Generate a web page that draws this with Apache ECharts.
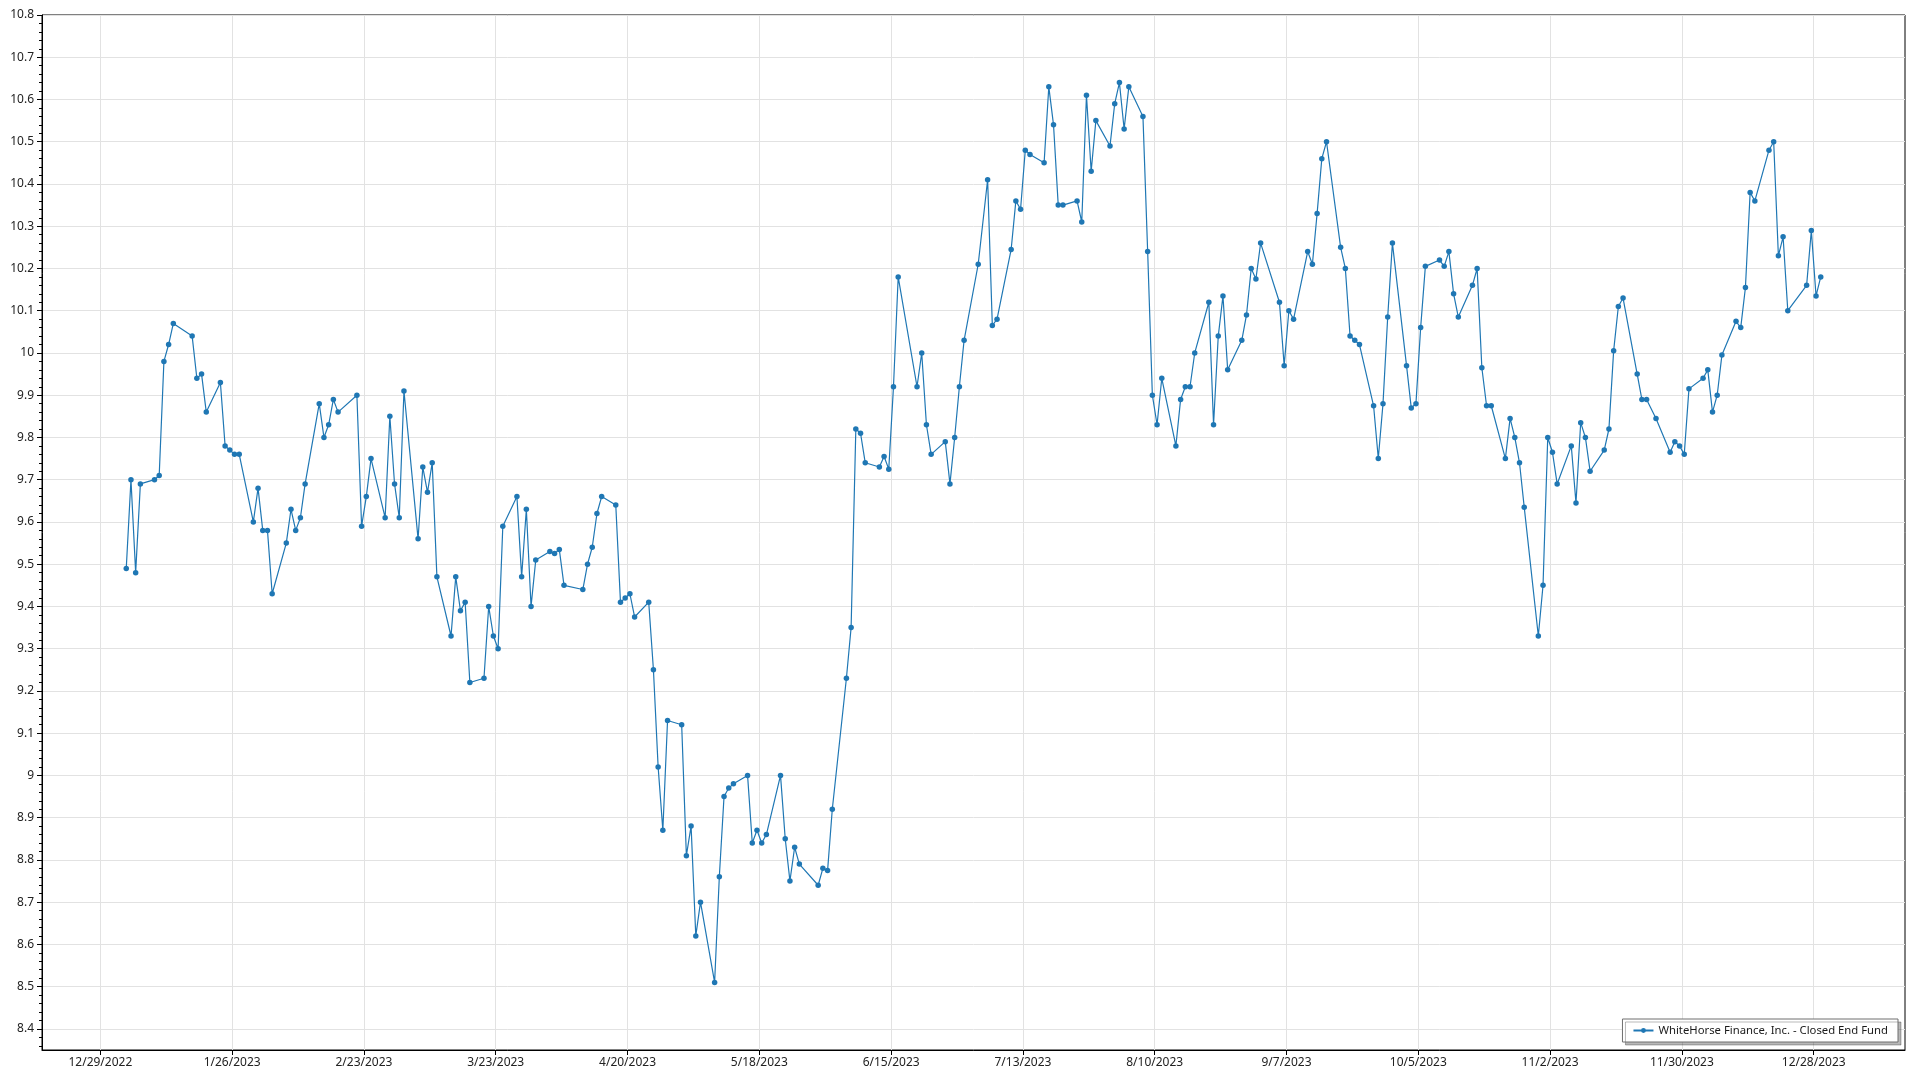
<!DOCTYPE html>
<html>
<head>
<meta charset="utf-8">
<script src="https://cdn.jsdelivr.net/npm/echarts@6/dist/echarts.min.js"></script>
<style>
  html, body { margin: 0; padding: 0; background: #fff; }
  #chart { width: 1920px; height: 1080px; }
</style>
</head>
<body>
<div id="chart"></div>
<script>
// ---- Data (year 2023, M/D) ----
const YEAR = 2023;
const dates = [
  '1/3','1/4','1/5','1/6','1/9','1/10','1/11','1/12','1/13','1/17','1/18','1/19','1/20','1/23','1/24','1/25','1/26','1/27','1/30','1/31',
  '2/1','2/2','2/3','2/6','2/7','2/8','2/9','2/10','2/13','2/14','2/15','2/16','2/17','2/21','2/22','2/23','2/24','2/27','2/28',
  '3/1','3/2','3/3','3/6','3/7','3/8','3/9','3/10','3/13','3/14','3/15','3/16','3/17','3/20','3/21','3/22','3/23','3/24','3/27','3/28','3/29','3/30','3/31',
  '4/3','4/4','4/5','4/6','4/10','4/11','4/12','4/13','4/14','4/17','4/18','4/19','4/20','4/21','4/24','4/25','4/26','4/27','4/28',
  '5/1','5/2','5/3','5/4','5/5','5/8','5/9','5/10','5/11','5/12','5/15','5/16','5/17','5/18','5/19','5/22','5/23','5/24','5/25','5/26','5/30','5/31',
  '6/1','6/2','6/5','6/6','6/7','6/8','6/9','6/12','6/13','6/14','6/15','6/16','6/20','6/21','6/22','6/23','6/26','6/27','6/28','6/29','6/30',
  '7/3','7/5','7/6','7/7','7/10','7/11','7/12','7/13','7/14','7/17','7/18','7/19','7/20','7/21','7/24','7/25','7/26','7/27','7/28','7/31',
  '8/1','8/2','8/3','8/4','8/7','8/8','8/9','8/10','8/11','8/14','8/15','8/16','8/17','8/18','8/21','8/22','8/23','8/24','8/25','8/28','8/29','8/30','8/31',
  '9/1','9/5','9/6','9/7','9/8','9/11','9/12','9/13','9/14','9/15','9/18','9/19','9/20','9/21','9/22','9/25','9/26','9/27','9/28','9/29',
  '10/2','10/3','10/4','10/5','10/6','10/9','10/10','10/11','10/12','10/13','10/16','10/17','10/18','10/19','10/20','10/23','10/24','10/25','10/26','10/27','10/30','10/31',
  '11/1','11/2','11/3','11/6','11/7','11/8','11/9','11/10','11/13','11/14','11/15','11/16','11/17','11/20','11/21','11/22','11/24','11/27','11/28','11/29','11/30',
  '12/1','12/4','12/5','12/6','12/7','12/8','12/11','12/12','12/13','12/14','12/15','12/18','12/19','12/20','12/21','12/22','12/26','12/27','12/28','12/29'
];
const prices = [
  9.49,9.70,9.48,9.69,9.70,9.71,9.98,10.02,10.07,10.04,9.94,9.95,9.86,9.93,9.78,9.77,9.76,9.76,9.60,9.68,
  9.58,9.58,9.43,9.55,9.63,9.58,9.61,9.69,9.88,9.80,9.83,9.89,9.86,9.90,9.59,9.66,9.75,9.61,9.85,
  9.69,9.61,9.91,9.56,9.73,9.67,9.74,9.47,9.33,9.47,9.39,9.41,9.22,9.23,9.40,9.33,9.30,9.59,9.66,9.47,9.63,9.40,9.51,
  9.53,9.525,9.535,9.45,9.44,9.50,9.54,9.62,9.66,9.64,9.41,9.42,9.43,9.375,9.41,9.25,9.02,8.87,9.13,
  9.12,8.81,8.88,8.62,8.70,8.51,8.76,8.95,8.97,8.98,9.00,8.84,8.87,8.84,8.86,9.00,8.85,8.75,8.83,8.79,8.74,8.78,
  8.775,8.92,9.23,9.35,9.82,9.81,9.74,9.73,9.755,9.725,9.92,10.18,9.92,10.00,9.83,9.76,9.79,9.69,9.80,9.92,10.03,
  10.21,10.41,10.065,10.08,10.245,10.36,10.34,10.48,10.47,10.45,10.63,10.54,10.35,10.35,10.36,10.31,10.61,10.43,10.55,10.49,
  10.59,10.64,10.53,10.63,10.56,10.24,9.90,9.83,9.94,9.78,9.89,9.92,9.92,10.00,10.12,9.83,10.04,10.135,9.96,10.03,10.09,10.20,10.175,
  10.26,10.12,9.97,10.10,10.08,10.24,10.21,10.33,10.46,10.50,10.25,10.20,10.04,10.03,10.02,9.875,9.75,9.88,10.085,10.26,
  9.97,9.87,9.88,10.06,10.205,10.22,10.205,10.24,10.14,10.085,10.16,10.20,9.965,9.875,9.875,9.75,9.845,9.80,9.74,9.635,9.33,9.45,
  9.80,9.765,9.69,9.78,9.645,9.835,9.80,9.72,9.77,9.82,10.005,10.11,10.13,9.95,9.89,9.89,9.845,9.765,9.79,9.78,9.76,
  9.915,9.94,9.96,9.86,9.90,9.995,10.075,10.06,10.155,10.38,10.36,10.48,10.50,10.23,10.275,10.10,10.16,10.29,10.135,10.18
];
const seriesName = 'WhiteHorse Finance, Inc. - Closed End Fund';
const xTickLabels = ['12/29/2022','1/26/2023','2/23/2023','3/23/2023','4/20/2023','5/18/2023','6/15/2023',
  '7/13/2023','8/10/2023','9/7/2023','10/5/2023','11/2/2023','11/30/2023','12/28/2023'];
const yTickLabels = [8.4,8.5,8.6,8.7,8.8,8.9,9,9.1,9.2,9.3,9.4,9.5,9.6,9.7,9.8,9.9,10,10.1,10.2,10.3,10.4,10.5,10.6,10.7,10.8];

// ---- helpers: axis unit = days since 12/29/2022 ----
const ORIGIN = Date.UTC(2022, 11, 29);
const DAY = 86400000;
function toDays(m, d, y) { return (Date.UTC(y, m - 1, d) - ORIGIN) / DAY; }
function parseMDY(s) { const p = s.split('/').map(Number); return toDays(p[0], p[1], p[2]); }
function fmt(v) {
  const dt = new Date(ORIGIN + Math.round(v) * DAY);
  return (dt.getUTCMonth() + 1) + '/' + dt.getUTCDate() + '/' + dt.getUTCFullYear();
}
const seriesData = dates.map((s, i) => {
  const p = s.split('/').map(Number);
  return [toDays(p[0], p[1], YEAR) + 0.5, prices[i]];
});
const xTickVals = xTickLabels.map(parseMDY);

const FONT = 'Noto Sans';
const chart = echarts.init(document.getElementById('chart'), null, { renderer: 'canvas' });
chart.setOption({
  animation: false,
  backgroundColor: '#ffffff',
  grid: { left: 42, right: 15, top: 15, bottom: 30, show: true, borderColor: '#000', borderWidth: 1, containLabel: false },
  legend: {
    data: [seriesName],
    right: 22, bottom: 38,
    orient: 'horizontal',
    padding: [6, 10, 6, 10],
    itemWidth: 20, itemHeight: 6, itemGap: 6,
    backgroundColor: '#fff',
    borderColor: '#6e6e6e', borderWidth: 1,
    shadowColor: 'rgba(0,0,0,0.28)', shadowOffsetX: 3, shadowOffsetY: 3, shadowBlur: 0,
    textStyle: { fontFamily: FONT, fontSize: 11.3, color: '#1a1a1a', padding: [0, 0, 0, 0] }
  },
  xAxis: {
    type: 'value',
    min: -12.4, max: 383.4,
    minInterval: 28, maxInterval: 28,
    axisLine: { show: true, onZero: false, lineStyle: { color: '#000', width: 1 } },
    axisTick: { show: true, length: 5, customValues: xTickVals, lineStyle: { color: '#000' } },
    axisLabel: { customValues: xTickVals, formatter: fmt, color: '#222', fontFamily: FONT, fontSize: 12, margin: 7 },
    splitLine: { show: true, lineStyle: { color: '#e2e2e2', width: 1 } }
  },
  yAxis: {
    type: 'value',
    min: 8.35, max: 10.8,
    minInterval: 0.1, maxInterval: 0.1,
    axisLine: { show: true, onZero: false, lineStyle: { color: '#000', width: 1 } },
    axisTick: { show: true, length: 5, customValues: yTickLabels, lineStyle: { color: '#000' } },
    minorTick: { show: true, splitNumber: 5, length: 3, lineStyle: { color: '#000' } },
    axisLabel: { customValues: yTickLabels, color: '#222', fontFamily: FONT, fontSize: 12, margin: 8 },
    splitLine: { show: true, lineStyle: { color: '#e2e2e2', width: 1 } }
  },
  series: [{
    name: seriesName,
    type: 'line',
    data: seriesData,
    showAllSymbol: true,
    symbol: 'circle',
    symbolSize: 5.5,
    itemStyle: { color: '#1f77b4' },
    lineStyle: { color: '#1f77b4', width: 1.2 },
    emphasis: { disabled: true }
  }]
});
</script>
</body>
</html>
